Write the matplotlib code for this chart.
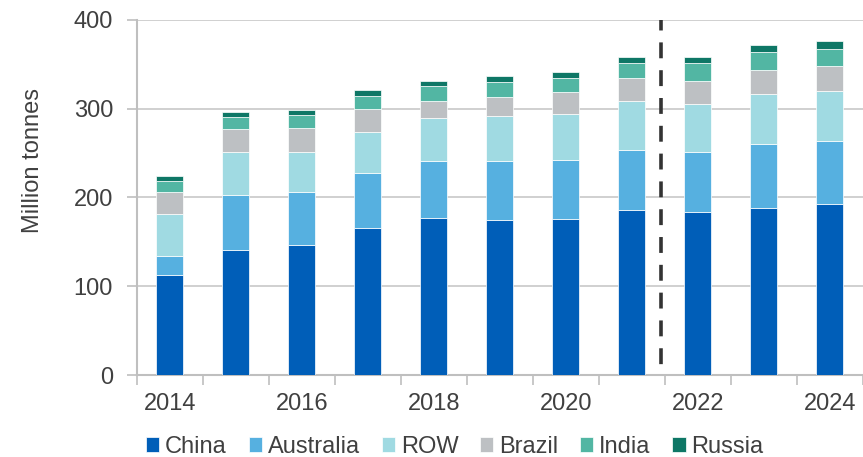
import matplotlib
matplotlib.use('Agg')
import matplotlib.pyplot as plt
import numpy as np

plt.rcParams['font.family'] = ['Liberation Sans', 'DejaVu Sans']

years = [2014, 2015, 2016, 2017, 2018, 2019, 2020, 2021, 2022, 2023, 2024]
series = ['China', 'Australia', 'ROW', 'Brazil', 'India', 'Russia']
china = [113, 141, 146.5, 166, 177, 174, 176, 186, 183, 188.5, 192]
australia = [21, 61.5, 60, 61.5, 64, 66.5, 65.5, 67.5, 68.5, 72, 72]
row = [47, 49, 45, 46, 48.5, 51.5, 52, 55, 53.5, 56, 56]
brazil = [25, 25.5, 27, 26, 19.5, 21.5, 25, 26, 26.5, 26.5, 27.5]
india = [12, 13, 14.5, 14.5, 16, 16, 16, 17, 19.5, 20.5, 20]
russia = [6, 6.5, 5.5, 6.5, 6.5, 7.5, 7, 7, 7, 8, 8]
colors = ['#005EB8', '#56B0E0', '#A0DAE2', '#BDC0C3', '#52B6A3', '#0E7766']
forecast_from = 2022

fig = plt.figure(figsize=(8.63, 4.57), dpi=100)
ax = fig.add_axes([0.1584, 0.1794, 0.8412, 0.7775])

x = np.arange(len(years)) + 0.5
bottom = np.zeros(len(years))
for name, vals, c in zip(series, [china, australia, row, brazil, india, russia], colors):
    ax.bar(x, vals, 0.4, bottom=bottom, color=c, edgecolor='white',
           linewidth=0.5, label=name, zorder=3)
    bottom += np.array(vals)

# split between actuals and forecast
split = years.index(forecast_from) - 0.06
ax.plot([split, split], [400, 0], color='#333333', lw=2.6,
        linestyle=(1.5, (4.4, 3.3)), zorder=4, clip_on=False)

ax.set_xlim(0, len(years))
ax.set_ylim(0, 400)
ax.set_yticks([0, 100, 200, 300, 400])
ax.set_xticks(np.arange(len(years) + 1))
ax.set_xticklabels([])
ax.set_xticks(x[::2], minor=True)
ax.set_xticklabels([str(y) for y in years[::2]], minor=True)
ax.tick_params(axis='x', which='minor', length=0, pad=13)
ax.tick_params(axis='x', which='major', length=7, width=1.2, color='#BFBFBF')
ax.tick_params(axis='y', length=7, width=1.2, color='#BFBFBF', pad=10)
ax.tick_params(which='both', labelsize=17, labelcolor='#404040')

ax.grid(axis='y', color='#C8C8C8', lw=1.2, zorder=0)
for s in ['top', 'right']:
    ax.spines[s].set_visible(False)
for s in ['left', 'bottom']:
    ax.spines[s].set_color('#BFBFBF')
    ax.spines[s].set_linewidth(1.5)

ax.set_ylabel('Million tonnes', fontsize=17, color='#404040')
ax.yaxis.set_label_coords(-0.128, 0.603)

fig.legend(loc='center', bbox_to_anchor=(0.527, 0.022), ncol=6, frameon=False,
           fontsize=17, labelcolor='#404040', handlelength=0.56,
           handleheight=0.56, handletextpad=0.25, columnspacing=0.92,
           borderpad=0)

fig.savefig('out.png', dpi=100)
